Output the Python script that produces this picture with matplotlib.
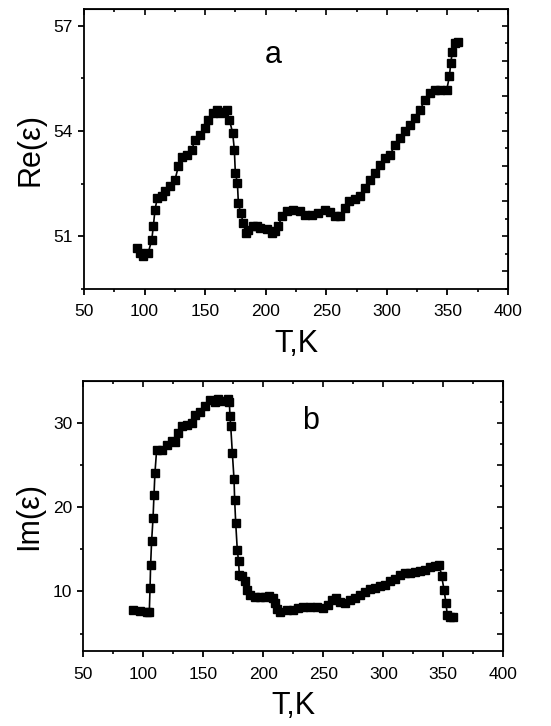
import matplotlib
matplotlib.use("Agg")
import matplotlib.pyplot as plt
from matplotlib.ticker import MultipleLocator, FixedLocator, NullFormatter

plt.rcParams['font.family'] = ['Liberation Sans', 'DejaVu Sans']

# Re(eps) vs T (panel a)
t_re = [93.5, 96.2, 99.0, 103.0, 105.9, 107.2, 108.6, 110.5, 114.0, 116.9,
        121.0, 125.0, 127.9, 130.6, 134.8, 138.9, 141.6, 145.8, 149.9, 152.6,
        156.8, 159.5, 162.3, 165.0, 167.8, 170.0, 172.7, 174.1, 174.9, 176.6,
        177.4, 179.3, 181.5, 183.7, 185.7, 189.8, 192.6, 195.3, 200.8, 205.0,
        207.7, 210.4, 213.2, 217.3, 222.8, 228.3, 232.5, 238.0, 243.5, 249.0,
        253.1, 257.2, 261.3, 265.5, 269.1, 273.7, 277.9, 282.0, 286.1, 290.3,
        294.4, 298.5, 302.6, 306.8, 310.9, 315.0, 319.1, 323.3, 327.4, 331.5,
        335.6, 339.8, 343.9, 349.4, 351.6, 352.7, 354.1, 356.3, 359.0]
re_eps = [50.67, 50.53, 50.45, 50.53, 50.90, 51.28, 51.76, 52.09, 52.14, 52.28,
          52.42, 52.60, 52.99, 53.27, 53.32, 53.46, 53.75, 53.89, 54.08, 54.32,
          54.51, 54.60, 54.51, 54.55, 54.60, 54.32, 53.94, 53.46, 52.80, 52.52,
          51.95, 51.66, 51.38, 51.10, 51.19, 51.28, 51.28, 51.24, 51.21, 51.10,
          51.14, 51.28, 51.57, 51.71, 51.74, 51.71, 51.62, 51.62, 51.66, 51.74,
          51.69, 51.59, 51.59, 51.81, 52.00, 52.06, 52.14, 52.37, 52.61, 52.80,
          53.04, 53.23, 53.32, 53.61, 53.80, 53.99, 54.18, 54.36, 54.60, 54.89,
          55.08, 55.17, 55.17, 55.17, 55.55, 55.93, 56.26, 56.50, 56.52]

# Im(eps) vs T (panel b)
t_im = [91.7, 97.2, 102.8, 105.0, 105.6, 106.1, 106.9, 108.1, 108.9, 109.7,
        111.1, 115.3, 119.4, 123.6, 126.4, 129.2, 131.9, 136.1, 140.3, 143.1,
        147.2, 151.4, 155.6, 159.7, 162.5, 166.7, 170.3, 171.7, 172.2, 172.8,
        174.2, 175.6, 176.1, 177.0, 178.3, 179.4, 180.0, 182.0, 184.7, 186.7,
        188.9, 193.1, 197.2, 201.4, 205.0, 207.8, 209.7, 211.7, 213.9, 219.4,
        225.0, 229.2, 233.3, 238.9, 244.4, 250.0, 254.2, 256.9, 260.6, 263.9,
        268.1, 272.2, 276.4, 280.6, 284.7, 288.9, 293.0, 297.2, 301.4, 305.6,
        309.7, 313.9, 318.1, 322.2, 326.4, 330.6, 334.7, 338.9, 343.1, 346.7,
        348.6, 350.6, 352.2, 353.3, 355.6, 358.3]
im_eps = [7.82, 7.74, 7.62, 7.60, 10.4, 13.2, 15.94, 18.7, 21.5, 24.1,
          26.8, 26.75, 27.4, 27.9, 27.8, 28.8, 29.6, 29.8, 30.0, 31.0,
          31.3, 32.0, 32.7, 32.5, 32.8, 32.6, 32.8, 32.5, 30.8, 29.7,
          26.4, 23.3, 20.9, 18.1, 14.95, 13.56, 12.0, 11.8, 11.2, 10.2,
          9.6, 9.4, 9.4, 9.4, 9.5, 9.2, 8.6, 7.9, 7.62, 7.82,
          7.82, 8.0, 8.2, 8.14, 8.14, 8.0, 8.4, 8.93, 9.2, 8.8,
          8.6, 8.93, 9.2, 9.6, 9.9, 10.3, 10.4, 10.6, 10.8, 11.2,
          11.5, 11.9, 12.2, 12.2, 12.3, 12.4, 12.6, 12.9, 13.05, 13.2,
          11.8, 10.2, 8.6, 7.2, 6.95, 6.95]

fig = plt.figure(figsize=(5.51, 7.26), dpi=100)
ax1 = fig.add_axes([0.1525, 0.6019, 0.7695, 0.3857])
ax2 = fig.add_axes([0.1512, 0.1029, 0.7623, 0.3719])


def style(ax, ylim, ymaj, ymin, rmaj, rmin):
    ax.set_xlim(50, 400)
    ax.set_ylim(*ylim)
    for s in ax.spines.values():
        s.set_linewidth(1.3)
    ax.xaxis.set_major_locator(MultipleLocator(50))
    ax.xaxis.set_minor_locator(MultipleLocator(25))
    ax.yaxis.set_major_locator(FixedLocator(ymaj))
    ax.yaxis.set_minor_locator(FixedLocator(ymin))
    ax.tick_params(which='major', direction='out', length=4, width=1.3,
                   labelsize=12.5, pad=4)
    ax.tick_params(which='minor', direction='out', length=2.5, width=1.2)
    ax.tick_params(axis='x', which='major', pad=7)
    top = ax.secondary_xaxis('top')
    top.xaxis.set_major_locator(MultipleLocator(50))
    top.xaxis.set_minor_locator(MultipleLocator(25))
    top.tick_params(which='major', direction='in', length=4, width=1.2, labeltop=False)
    top.tick_params(which='minor', direction='in', length=2.5, width=1.2)
    top.xaxis.set_major_formatter(NullFormatter())
    right = ax.secondary_yaxis('right')
    right.yaxis.set_major_locator(MultipleLocator(rmaj))
    right.yaxis.set_minor_locator(MultipleLocator(rmin))
    right.tick_params(which='major', direction='in', length=4, width=1.2, labelright=False)
    right.tick_params(which='minor', direction='in', length=2.5, width=1.2)
    right.yaxis.set_major_formatter(NullFormatter())
    ax.set_xlabel('T,K', fontsize=22, labelpad=7)


ax1.plot(t_re, re_eps, color='black', lw=1.2, marker='s', ms=6.3, mec='black', mfc='black')
style(ax1, (49.5, 57.47), [51, 54, 57], [49.5, 52.5, 55.5], 1, 0.5)
ax1.set_ylabel('Re(ε)', fontsize=22, labelpad=6)
ax1.text(206, 56.17, 'a', fontsize=22, ha='center', va='center')

ax2.plot(t_im, im_eps, color='black', lw=1.2, marker='s', ms=6.3, mec='black', mfc='black')
style(ax2, (2.9, 34.95), [10, 20, 30], [5, 15, 25], 5, 2.5)
ax2.set_ylabel('Im(ε)', fontsize=22, labelpad=6)
ax2.text(239, 30.2, 'b', fontsize=22, ha='center', va='center')

fig.savefig('out.png', dpi=100)
